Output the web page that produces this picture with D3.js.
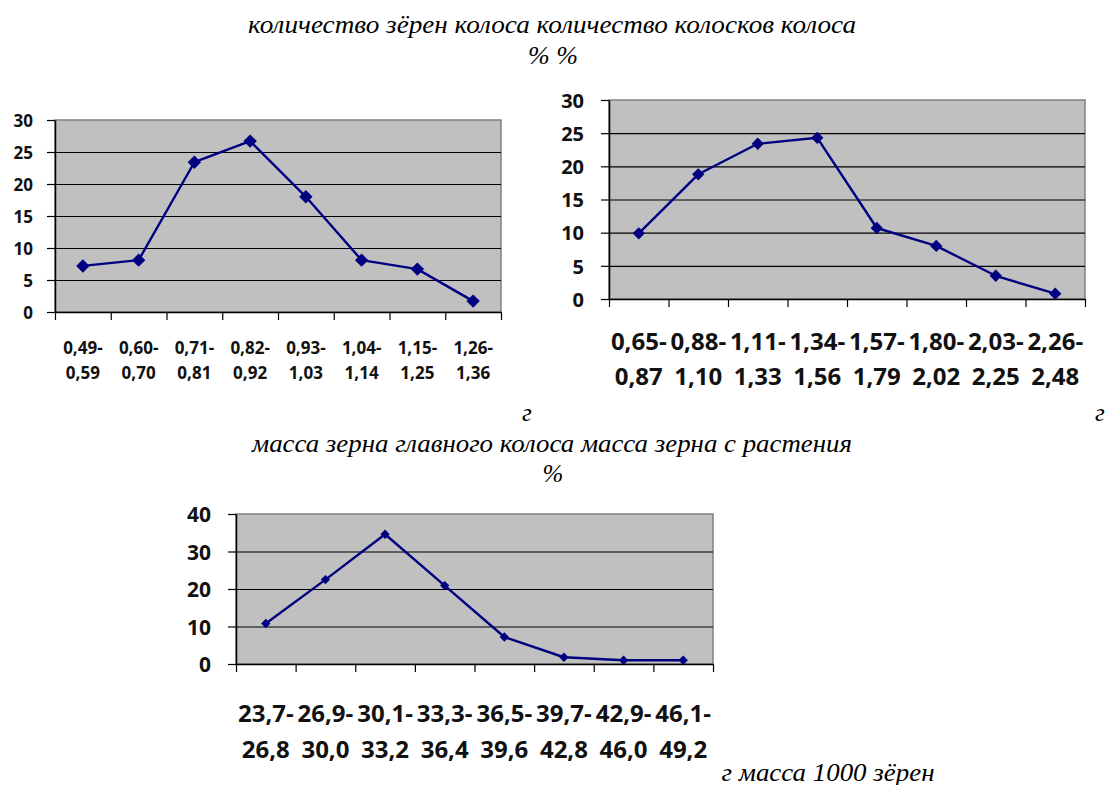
<!DOCTYPE html>
<html>
<head>
<meta charset="utf-8">
<script src="https://cdn.jsdelivr.net/npm/d3@7"></script>
<style>
  html, body { margin: 0; padding: 0; background: #fff; }
  svg { display: block; }
  .tick-lbl { font-family: "Open Sans", sans-serif; font-weight: 700; fill: #111; }
  .cap { font-family: "Liberation Serif", "DejaVu Serif", serif; font-style: italic; fill: #000; }
</style>
</head>
<body>
<svg id="chart" width="1110" height="785"></svg>
<script>
// ---------- data ----------
const grainsCats   = ["0,49-0,59","0,60-0,70","0,71-0,81","0,82-0,92","0,93-1,03","1,04-1,14","1,15-1,25","1,26-1,36"];
const grainsValues = [7.2, 8.1, 23.4, 26.7, 18.0, 8.1, 6.7, 1.7];
const grainsTicks  = [0, 5, 10, 15, 20, 25, 30];

const plantCats    = ["0,65-0,87","0,88-1,10","1,11-1,33","1,34-1,56","1,57-1,79","1,80-2,02","2,03-2,25","2,26-2,48"];
const plantValues  = [9.9, 18.8, 23.4, 24.3, 10.7, 8.0, 3.5, 0.8];
const plantTicks   = [0, 5, 10, 15, 20, 25, 30];

const thousandCats   = ["23,7-26,8","26,9-30,0","30,1-33,2","33,3-36,4","36,5-39,6","39,7-42,8","42,9-46,0","46,1-49,2"];
const thousandValues = [10.8, 22.5, 34.6, 20.9, 7.2, 1.8, 1.0, 1.0];
const thousandTicks  = [0, 10, 20, 30, 40];

const captions = [
  {t: "количество зёрен колоса количество колосков колоса", x: 552, y: 33, w: 608},
  {t: "% %", x: 553, y: 64, w: 50},
  {t: "г", x: 527, y: 421, w: 0},
  {t: "г", x: 1100, y: 421, w: 0},
  {t: "масса зерна главного колоса масса зерна с растения", x: 552, y: 452, w: 600},
  {t: "%", x: 553, y: 482, w: 0},
  {t: "г масса 1000 зёрен", x: 828, y: 781, w: 213}
];

const svg = d3.select("#chart");

function drawChart(cfg) {
  const g = svg.append("g");
  const x = d3.scaleBand().domain(cfg.cats).range([cfg.x0, cfg.x1]).padding(0);
  const xb = d3.scaleLinear().domain([0, cfg.cats.length]).range([cfg.x0, cfg.x1]);
  const y = d3.scaleLinear().domain([0, cfg.ymax]).range([cfg.y0, cfg.yTop]);

  // plot background
  g.append("rect")
    .attr("x", cfg.x0).attr("y", cfg.yTop)
    .attr("width", cfg.x1 - cfg.x0).attr("height", cfg.y0 - cfg.yTop)
    .attr("fill", "#c0c0c0").attr("stroke", "#808080").attr("stroke-width", 1.5);

  // gridlines
  const grid = g.append("g")
    .attr("transform", `translate(${cfg.x0},0)`)
    .call(d3.axisLeft(y).tickValues(cfg.ticks.filter(v => v > 0 && v < cfg.ymax))
      .tickSize(-(cfg.x1 - cfg.x0)).tickFormat(""));
  grid.select(".domain").remove();
  grid.selectAll(".tick line").attr("stroke", "#000").attr("stroke-width", 1.2);

  // y axis
  const ya = g.append("g")
    .attr("transform", `translate(${cfg.x0},0)`)
    .call(d3.axisLeft(y).tickValues(cfg.ticks).tickSize(cfg.tick).tickSizeOuter(0).tickFormat(d3.format("d")));
  ya.select(".domain").attr("stroke", "#000").attr("stroke-width", 1.5);
  ya.selectAll(".tick line").attr("stroke", "#000").attr("stroke-width", 1.2);
  ya.selectAll(".tick text")
    .attr("class", "tick-lbl")
    .attr("x", cfg.ylblX - cfg.x0)
    .attr("dy", "0.36em")
    .style("font-size", cfg.yfs + "px");

  // x axis (ticks at category boundaries)
  const xa = g.append("g")
    .attr("transform", `translate(0,${cfg.y0})`)
    .call(d3.axisBottom(xb).tickValues(d3.range(cfg.cats.length + 1)).tickSize(cfg.tick).tickSizeOuter(0).tickFormat(""));
  xa.select(".domain").attr("stroke", "#000").attr("stroke-width", 1.5);
  xa.selectAll(".tick line").attr("stroke", "#000").attr("stroke-width", 1.2);

  // category labels (two lines)
  const lbl = g.append("g").selectAll("text").data(cfg.cats).join("text")
    .attr("class", "tick-lbl")
    .attr("text-anchor", "middle")
    .style("font-size", cfg.xfs + "px");
  lbl.append("tspan")
    .attr("x", d => x(d) + x.bandwidth() / 2)
    .attr("y", cfg.l1).attr("dy", "0.36em")
    .text(d => d.split("-")[0] + "-");
  lbl.append("tspan")
    .attr("x", d => x(d) + x.bandwidth() / 2)
    .attr("y", cfg.l2).attr("dy", "0.36em")
    .text(d => d.split("-")[1]);

  // line
  const line = d3.line()
    .x((d, i) => x(cfg.cats[i]) + x.bandwidth() / 2)
    .y(d => y(d));
  g.append("path").datum(cfg.values)
    .attr("d", line)
    .attr("fill", "none").attr("stroke", "#000080").attr("stroke-width", 2.4)
    .attr("stroke-linejoin", "round");

  // diamond markers (rotated squares)
  const sym = d3.symbol().type(d3.symbolSquare).size(cfg.msize);
  g.append("g").selectAll("path").data(cfg.values).join("path")
    .attr("d", sym)
    .attr("transform", (d, i) => `translate(${x(cfg.cats[i]) + x.bandwidth() / 2},${y(d)}) rotate(45)`)
    .attr("fill", "#000080");
}

drawChart({cats: grainsCats, values: grainsValues, ticks: grainsTicks, ymax: 30,
  x0: 55, x1: 501, y0: 312, yTop: 120, ylblX: 33, tick: 8, yfs: 17, xfs: 17, l1: 348, l2: 373, msize: 90});
drawChart({cats: plantCats, values: plantValues, ticks: plantTicks, ymax: 30,
  x0: 609, x1: 1085, y0: 299, yTop: 100, ylblX: 584, tick: 8, yfs: 20, xfs: 24, l1: 341, l2: 376, msize: 76});
drawChart({cats: thousandCats, values: thousandValues, ticks: thousandTicks, ymax: 40,
  x0: 236, x1: 713, y0: 664, yTop: 514, ylblX: 211, tick: 8, yfs: 21, xfs: 24, l1: 713, l2: 749, msize: 44});

// captions
captions.forEach(c => {
  const t = svg.append("text").attr("class", "cap")
    .attr("x", c.x).attr("y", c.y)
    .attr("text-anchor", "middle")
    .style("font-size", "25px")
    .text(c.t);
  if (c.w > 0) t.attr("textLength", c.w).attr("lengthAdjust", "spacingAndGlyphs");
});
</script>
</body>
</html>
